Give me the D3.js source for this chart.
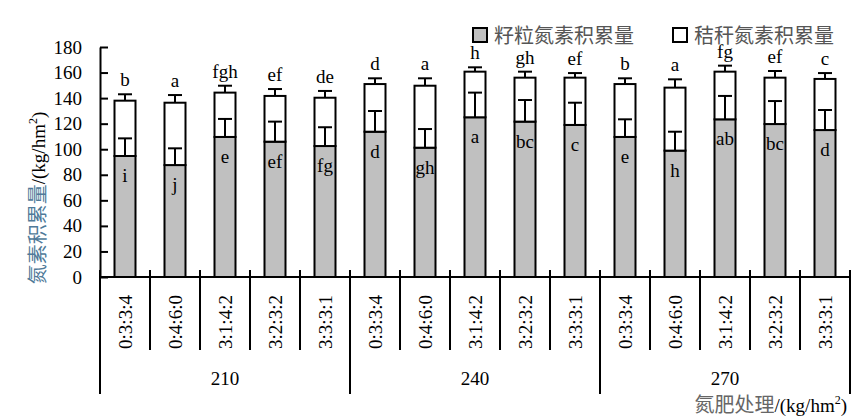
<!DOCTYPE html>
<html><head><meta charset="utf-8">
<script src="https://cdn.jsdelivr.net/npm/d3@7"></script>
<style>body{margin:0;background:#fff}svg{display:block}</style>
</head><body>
<svg id="c" width="868" height="420"></svg>
<script>
const groups = ["210", "240", "270"];
const ratios = ["0:3:3:4", "0:4:6:0", "3:1:4:2", "3:2:3:2", "3:3:3:1"];
const grain = [94.7, 87.6, 109.6, 105.9, 102.5, 113.7, 101.2, 125.0, 121.6, 119.0, 109.6, 98.9, 123.4, 119.7, 115.0];
const straw = [43.3, 48.8, 34.7, 35.8, 37.8, 37.3, 48.5, 35.7, 34.4, 37.0, 41.4, 49.3, 37.3, 36.3, 40.0];
const grainErr = [13.8, 13.1, 14.1, 15.7, 14.7, 16.2, 14.6, 19.3, 16.9, 17.4, 13.8, 14.8, 18.3, 18.0, 15.7];
const totalErr = [5.0, 6.0, 5.4, 5.4, 5.3, 4.5, 5.8, 3.4, 4.7, 3.6, 4.5, 6.5, 4.7, 5.2, 4.6];
const topLetters = ["b", "a", "fgh", "ef", "de", "d", "a", "h", "gh", "ef", "b", "a", "fg", "ef", "c"];
const grainLetters = ["i", "j", "e", "ef", "fg", "d", "gh", "a", "bc", "c", "e", "h", "ab", "bc", "d"];
const yTicks = [0, 20, 40, 60, 80, 100, 120, 140, 160, 180];
const legendLabels = ["籽粒氮素积累量", "秸秆氮素积累量"];

const serif = "'Liberation Serif','Times New Roman',serif";
const cjk = "'Noto Sans CJK SC',sans-serif";
const svg = d3.select("#c");

const rows = [];
groups.forEach((g, gi) => ratios.forEach((r, ri) => {
  const i = gi * ratios.length + ri;
  rows.push({i, g, r, grain: grain[i], straw: straw[i]});
}));
const idx = rows.map(d => d.i);

const L = 100, R = 850, T = 47, B = 277;
const xCell = d3.scaleBand().domain(idx).range([L, R]).padding(0);
const x = d3.scaleBand().domain(idx).range([L, R]).paddingInner(0.58).paddingOuter(0.29);
const y = d3.scaleLinear().domain([0, 180]).range([B, T]);
const xGroup = d3.scaleBand().domain(groups).range([L, R]).padding(0);

const stack = d3.stack().keys(["grain", "straw"])(rows);
const fills = {grain: "#c0c0c0", straw: "#ffffff"};

// bars
svg.append("g").selectAll("g").data(stack).join("g")
  .attr("fill", d => fills[d.key])
  .selectAll("rect").data(d => d).join("rect")
  .attr("x", d => x(d.data.i))
  .attr("width", x.bandwidth())
  .attr("y", d => y(d[1]))
  .attr("height", d => y(d[0]) - y(d[1]))
  .attr("stroke", "#000").attr("stroke-width", 2);

// error bars
const cap = 7;
function errBar(base, err) {
  const g = svg.append("g").attr("stroke", "#000").attr("stroke-width", 2);
  rows.forEach(d => {
    const cx = x(d.i) + x.bandwidth() / 2;
    const v0 = base(d), v1 = base(d) + err[d.i];
    g.append("line").attr("x1", cx).attr("x2", cx).attr("y1", y(v0)).attr("y2", y(v1));
    g.append("line").attr("x1", cx - cap).attr("x2", cx + cap).attr("y1", y(v1)).attr("y2", y(v1));
  });
}
errBar(d => d.grain, grainErr);
errBar(d => d.grain + d.straw, totalErr);

// letters
svg.append("g").selectAll("text").data(rows).join("text")
  .attr("x", d => x(d.i) + x.bandwidth() / 2)
  .attr("y", d => y(d.grain + d.straw + totalErr[d.i]) - 8)
  .attr("text-anchor", "middle").attr("font-family", serif).attr("font-size", 19)
  .text(d => topLetters[d.i]);
svg.append("g").selectAll("text").data(rows).join("text")
  .attr("x", d => x(d.i) + x.bandwidth() / 2)
  .attr("y", d => y(d.grain) + 26)
  .attr("text-anchor", "middle").attr("font-family", serif).attr("font-size", 19)
  .text(d => grainLetters[d.i]);

// y axis
const ya = svg.append("g").attr("transform", `translate(${L},0)`)
  .call(d3.axisLeft(y).tickValues(yTicks).tickSize(-8).tickPadding(18).tickSizeOuter(0));
ya.attr("font-family", serif);
ya.select(".domain").attr("stroke-width", 2);
ya.selectAll(".tick line").attr("stroke-width", 2);
ya.selectAll(".tick text").attr("font-family", serif).attr("font-size", 19).attr("fill", "#000");

// x axis line
svg.append("line").attr("x1", L - 1).attr("x2", R + 1).attr("y1", B).attr("y2", B)
  .attr("stroke", "#000").attr("stroke-width", 2);

// category separators
const gx = svg.append("g").attr("stroke", "#000").attr("stroke-width", 2);
const bounds = idx.map(i => xCell(i)).concat([R]);
bounds.forEach((bx, k) => {
  const isGroup = k % ratios.length === 0;
  gx.append("line").attr("x1", bx).attr("x2", bx)
    .attr("y1", B - 7).attr("y2", isGroup ? 394 : 350);
});

// category labels
svg.append("g").selectAll("text").data(rows).join("text")
  .attr("transform", d => `translate(${xCell(d.i) + xCell.bandwidth() / 2 + 7},322) rotate(-90)`)
  .attr("text-anchor", "middle").attr("font-family", serif).attr("font-size", 19)
  .text(d => d.r);

// group labels
svg.append("g").selectAll("text").data(groups).join("text")
  .attr("x", d => xGroup(d) + xGroup.bandwidth() / 2)
  .attr("y", 385)
  .attr("text-anchor", "middle").attr("font-family", serif).attr("font-size", 19)
  .text(d => d);

// y title
const yt = svg.append("text").attr("transform", "translate(45,198) rotate(-90)")
  .attr("text-anchor", "middle");
yt.append("tspan").attr("font-family", cjk).attr("font-size", 20).attr("fill", "#4f7a99").text("氮素积累量");
yt.append("tspan").attr("font-family", serif).attr("font-size", 19).attr("fill", "#000").text("/(kg/hm");
yt.append("tspan").attr("font-family", serif).attr("font-size", 12).attr("dy", -8).text("2");
yt.append("tspan").attr("font-family", serif).attr("font-size", 19).attr("dy", 8).text(")");

// x title
const xt = svg.append("text").attr("x", 847).attr("y", 412).attr("text-anchor", "end");
xt.append("tspan").attr("font-family", cjk).attr("font-size", 20).attr("fill", "#666").text("氮肥处理");
xt.append("tspan").attr("font-family", serif).attr("font-size", 19).attr("fill", "#000").text("/(kg/hm");
xt.append("tspan").attr("font-family", serif).attr("font-size", 12).attr("dy", -8).text("2");
xt.append("tspan").attr("font-family", serif).attr("font-size", 19).attr("dy", 8).text(")");

// legend
const legX = [473, 673];
const lg = svg.append("g");
legendLabels.forEach((t, k) => {
  lg.append("rect").attr("x", legX[k]).attr("y", 28).attr("width", 14).attr("height", 14)
    .attr("fill", k === 0 ? fills.grain : fills.straw).attr("stroke", "#000").attr("stroke-width", 2);
  lg.append("text").attr("x", legX[k] + 21).attr("y", 34).attr("dominant-baseline", "central")
    .attr("font-family", cjk).attr("font-size", 20).attr("fill", "#555").text(t);
});
</script>
</body></html>
